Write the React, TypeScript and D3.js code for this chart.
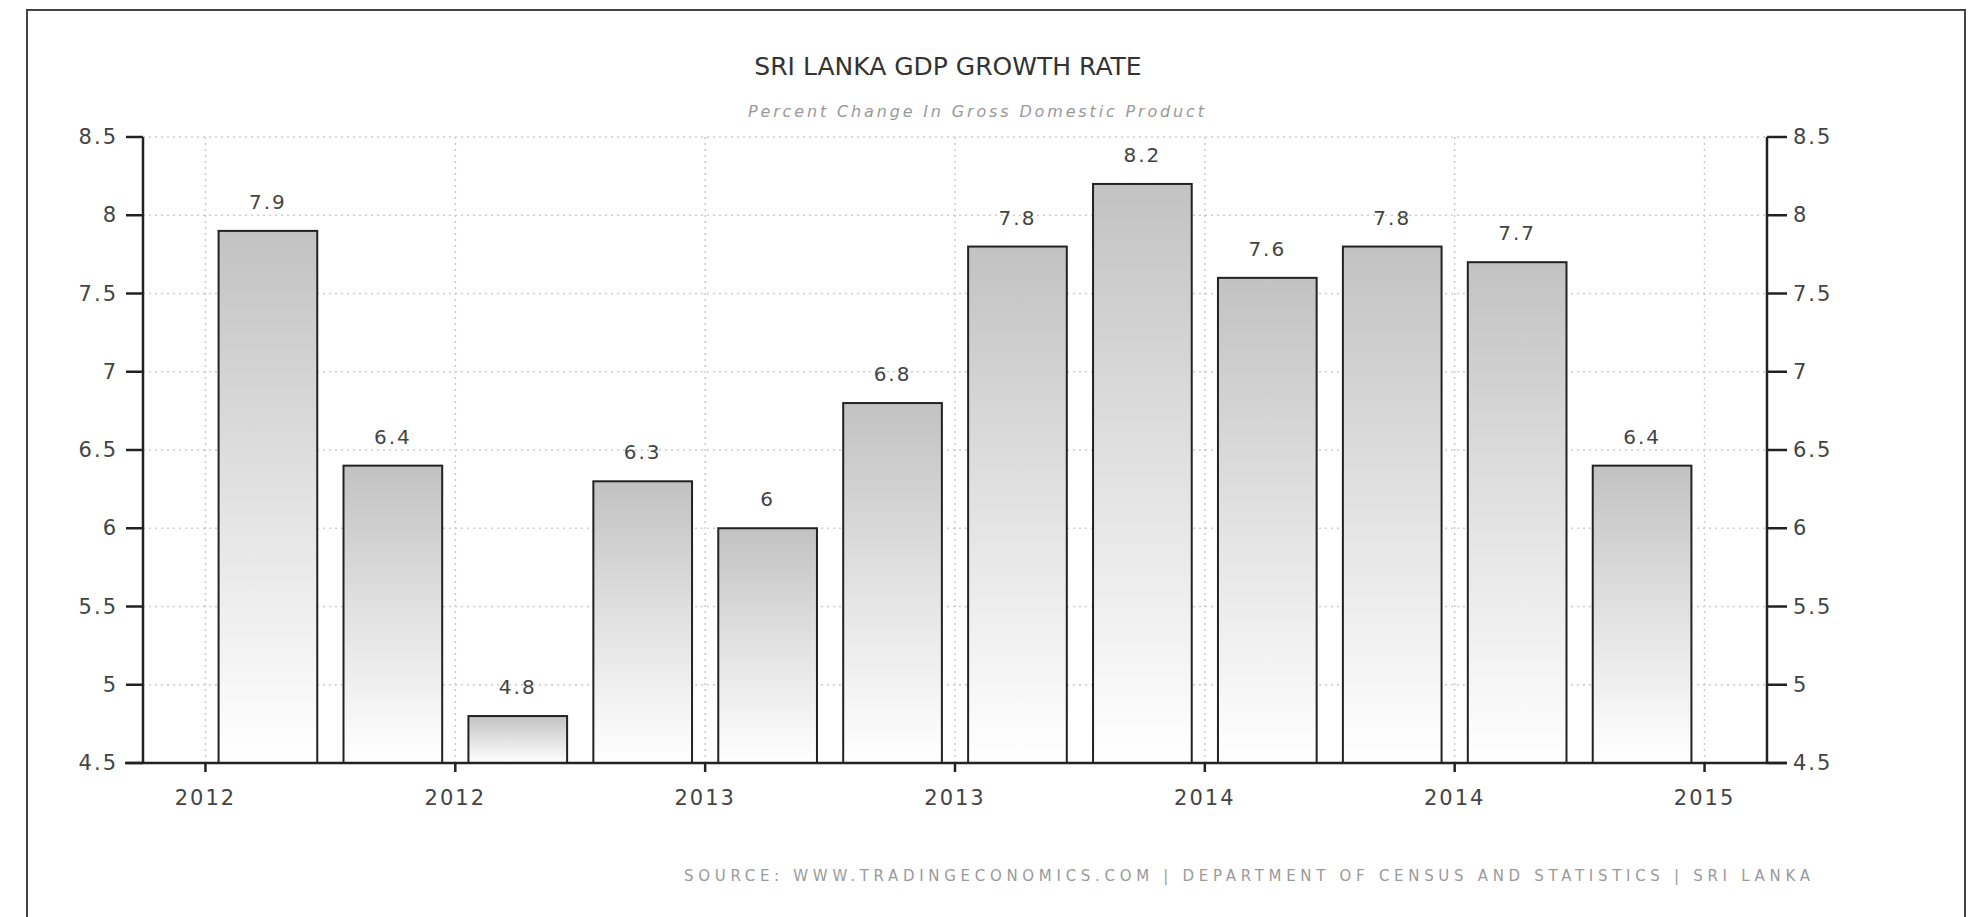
import React from "react";
import * as d3 from "d3";

const quarters = ["2012Q1","2012Q2","2012Q3","2012Q4","2013Q1","2013Q2","2013Q3","2013Q4","2014Q1","2014Q2","2014Q3","2014Q4"];
const gdpGrowth = [7.9, 6.4, 4.8, 6.3, 6.0, 6.8, 7.8, 8.2, 7.6, 7.8, 7.7, 6.4];
const valueLabels = ["7.9","6.4","4.8","6.3","6","6.8","7.8","8.2","7.6","7.8","7.7","6.4"];
const xTickLabels = ["2012","2012","2013","2013","2014","2014","2015"];
const yTicks = [4.5, 5, 5.5, 6, 6.5, 7, 7.5, 8, 8.5];
const yTickLabels = ["4.5","5","5.5","6","6.5","7","7.5","8","8.5"];

const W = 1981, H = 917;
const FONT = "'DejaVu Sans', Verdana, sans-serif";

export default function App() {
  const x = d3.scaleLinear().domain([-1, quarters.length]).range([143, 1767]);
  const y = d3.scaleLinear().domain([4.5, 8.5]).range([763, 137]);
  const step = x(1) - x(0);
  const bw = step * 0.79;
  const xTickPos = xTickLabels.map((_, k) => 2 * k - 0.5);
  const x0 = x.range()[0], x1 = x.range()[1];
  const yb = y(4.5), yt = y(8.5);

  return (
    <div style={{ position: "absolute", left: 0, top: 0, width: W, height: H, background: "#fff" }}>
      <svg width={W} height={H} style={{ display: "block" }}>
        <defs>
          <linearGradient id="barGrad" x1="0" y1="0" x2="0" y2="1">
            <stop offset="0%" stopColor="#c2c2c2" />
            <stop offset="50%" stopColor="#e2e2e2" />
            <stop offset="100%" stopColor="#ffffff" />
          </linearGradient>
        </defs>
        <rect x={0} y={0} width={W} height={H} fill="#fff" />
        {/* outer frame */}
        <rect x={27} y={10} width={1938} height={H + 20} fill="none" stroke="#444" strokeWidth={2} />

        {/* title */}
        <text x={948} y={75} textAnchor="middle" fontFamily={FONT} fontSize={25} fill="#333">SRI LANKA GDP GROWTH RATE</text>
        <text x={976} y={117} textAnchor="middle" fontFamily={FONT} fontSize={16} fontStyle="italic" fill="#999" textLength={456} lengthAdjust="spacing">Percent Change In Gross Domestic Product</text>

        {/* grid */}
        {yTicks.map((t, i) => (
          <line key={"gy" + i} x1={x0} x2={x1} y1={y(t)} y2={y(t)} stroke="#cccccc" strokeWidth={1.5} strokeDasharray="2,4" />
        ))}
        {xTickPos.map((p, i) => (
          <line key={"gx" + i} x1={x(p)} x2={x(p)} y1={yt} y2={yb} stroke="#cccccc" strokeWidth={1.5} strokeDasharray="2,4" />
        ))}

        {/* bars */}
        {gdpGrowth.map((v, i) => (
          <rect key={"b" + i} x={x(i) - bw / 2} y={y(v)} width={bw} height={yb - y(v)} fill="url(#barGrad)" stroke="#222" strokeWidth={2} />
        ))}
        {gdpGrowth.map((v, i) => (
          <text key={"vl" + i} x={x(i)} y={y(v) - 22} textAnchor="middle" fontFamily={FONT} fontSize={20} letterSpacing={2} fill="#444">{valueLabels[i]}</text>
        ))}

        {/* axes */}
        <line x1={x0} x2={x0} y1={yt} y2={yb} stroke="#222" strokeWidth={2.5} />
        <line x1={x1} x2={x1} y1={yt} y2={yb} stroke="#222" strokeWidth={2.5} />
        <line x1={x0 - 18} x2={x1 + 20} y1={yb} y2={yb} stroke="#222" strokeWidth={2.5} />
        {yTicks.map((t, i) => (
          <g key={"yt" + i}>
            <line x1={x0 - 17} x2={x0} y1={y(t)} y2={y(t)} stroke="#222" strokeWidth={2.5} />
            <text x={x0 - 25} y={y(t) + 7} textAnchor="end" fontFamily={FONT} fontSize={21} letterSpacing={2} fill="#444">{yTickLabels[i]}</text>
            <line x1={x1} x2={x1 + 20} y1={y(t)} y2={y(t)} stroke="#222" strokeWidth={2.5} />
            <text x={x1 + 26} y={y(t) + 7} textAnchor="start" fontFamily={FONT} fontSize={21} letterSpacing={2} fill="#444">{yTickLabels[i]}</text>
          </g>
        ))}
        {xTickPos.map((p, i) => (
          <g key={"xt" + i}>
            <line x1={x(p)} x2={x(p)} y1={yb} y2={yb + 9} stroke="#222" strokeWidth={2.5} />
            <text x={x(p)} y={yb + 42} textAnchor="middle" fontFamily={FONT} fontSize={21} letterSpacing={2} fill="#444">{xTickLabels[i]}</text>
          </g>
        ))}

        {/* source */}
        <text x={1810} y={881} textAnchor="end" fontFamily={FONT} fontSize={15} fill="#9a9a9a" textLength={1126} lengthAdjust="spacing">SOURCE: WWW.TRADINGECONOMICS.COM | DEPARTMENT OF CENSUS AND STATISTICS | SRI LANKA</text>
      </svg>
    </div>
  );
}
